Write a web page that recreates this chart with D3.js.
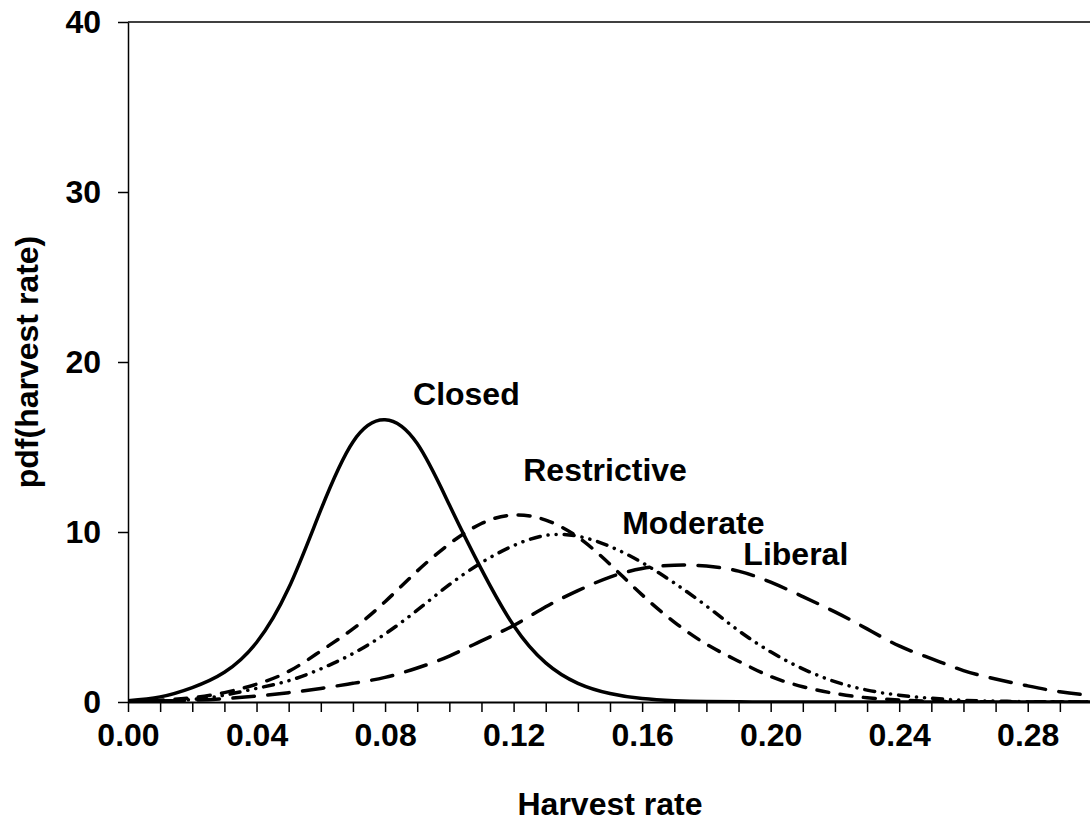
<!DOCTYPE html>
<html>
<head>
<meta charset="utf-8">
<script src="https://cdn.jsdelivr.net/npm/d3@7"></script>
<style>
  body { margin: 0; background: #fff; }
  svg text { font-family: Arial, "Liberation Sans", sans-serif; font-weight: bold; fill: #000; }
</style>
</head>
<body>
<div id="chart"></div>
<script>
// harvest rate grid (x) and the pdf
const harvestRate = [0.00, 0.01, 0.02, 0.03, 0.04, 0.05, 0.06, 0.07, 0.08, 0.09,
                     0.10, 0.11, 0.12, 0.13, 0.14, 0.15, 0.16, 0.17, 0.18, 0.19,
                     0.20, 0.21, 0.22, 0.23, 0.24, 0.25, 0.26, 0.27, 0.28, 0.29, 0.30];

const closed      = [0.08, 0.3, 0.85, 1.75, 3.5, 6.7, 11.3, 15.3, 16.6, 15.2,
                     11.6, 7.8, 4.5, 2.3, 1.1, 0.5, 0.2, 0.08, 0.03, 0.01,
                     0, 0, 0, 0, 0, 0, 0, 0, 0, 0, 0];
const restrictive = [0.02, 0.1, 0.25, 0.55, 1.05, 1.8, 3.0, 4.3, 5.9, 7.7,
                     9.3, 10.5, 11.0, 10.7, 9.7, 8.1, 6.3, 4.7, 3.4, 2.4,
                     1.5, 0.9, 0.5, 0.25, 0.12, 0.05, 0.02, 0.01, 0, 0, 0];
const moderate    = [0.01, 0.05, 0.15, 0.4, 0.8, 1.25, 1.95, 2.85, 4.0, 5.4,
                     6.9, 8.2, 9.2, 9.8, 9.75, 9.15, 8.2, 7.0, 5.65, 4.2,
                     2.95, 1.95, 1.2, 0.7, 0.4, 0.22, 0.1, 0.05, 0.02, 0.01, 0];
const liberal     = [0.02, 0.05, 0.1, 0.2, 0.35, 0.55, 0.8, 1.1, 1.45, 2.0,
                     2.7, 3.6, 4.5, 5.6, 6.55, 7.35, 7.85, 8.05, 8.0, 7.7,
                     7.05, 6.2, 5.3, 4.3, 3.3, 2.55, 1.85, 1.35, 0.95, 0.6, 0.38];

const xTickLabels = [0.00, 0.04, 0.08, 0.12, 0.16, 0.20, 0.24, 0.28];
const yTickLabels = [0, 10, 20, 30, 40];

// series styling + where the label sits (in data units)
const series = [
  {name: "Closed",      values: closed,      dash: null,                 lx: 0.0887, ly: 17.5},
  {name: "Restrictive", values: restrictive, dash: "12,11.5",            lx: 0.1230, ly: 13.0},
  {name: "Moderate",    values: moderate,    dash: "10,8,0.1,8,0.1,8",   lx: 0.1538, ly: 9.9},
  {name: "Liberal",     values: liberal,     dash: "21.5,13.5",          lx: 0.1915, ly: 8.05}
];

const width = 1090, height = 822;
const margin = {left: 128, top: 22, right: -2, bottom: 120};

const svg = d3.select("#chart").append("svg")
  .attr("width", width)
  .attr("height", height);

const x = d3.scaleLinear().domain([0, 0.30]).range([margin.left, width - margin.right]);
const y = d3.scaleLinear().domain([0, 40]).range([height - margin.bottom, margin.top]);

// top frame line
svg.append("line")
  .attr("x1", x(0)).attr("x2", x(0.30))
  .attr("y1", y(40)).attr("y2", y(40))
  .attr("stroke", "#000").attr("stroke-width", 1.5);

// x axis: minor ticks every 0.01, labels every 0.04
const xAxis = d3.axisBottom(x)
  .tickValues(harvestRate)
  .tickSize(10)
  .tickSizeOuter(0)
  .tickFormat(d => xTickLabels.some(v => Math.abs(v - d) < 1e-9) ? d3.format(".2f")(d) : "");

const gx = svg.append("g")
  .attr("transform", `translate(0,${y(0)})`)
  .call(xAxis);
gx.select(".domain").attr("stroke-width", 2);
gx.selectAll(".tick line").attr("stroke-width", 1.5);
gx.selectAll(".tick text")
  .attr("y", 21)
  .attr("dy", "0.71em")
  .style("font-size", "32px");

// y axis
const yAxis = d3.axisLeft(y)
  .tickValues(yTickLabels)
  .tickSize(10)
  .tickSizeOuter(0)
  .tickPadding(17);

const gy = svg.append("g")
  .attr("transform", `translate(${x(0)},0)`)
  .call(yAxis);
gy.select(".domain").attr("stroke-width", 1.5);
gy.selectAll(".tick line").attr("stroke-width", 1.5);
gy.selectAll(".tick text").style("font-size", "32px");

// axis titles
svg.append("text")
  .attr("x", (x(0) + x(0.30)) / 2)
  .attr("y", 815)
  .attr("text-anchor", "middle")
  .style("font-size", "32px")
  .text("Harvest rate");

svg.append("text")
  .attr("transform", `translate(38,${(y(0) + y(40)) / 2}) rotate(-90)`)
  .attr("text-anchor", "middle")
  .style("font-size", "32px")
  .text("pdf(harvest rate)");

// curves (clipped so the spline never dips under the axis)
svg.append("clipPath").attr("id", "plot-clip")
  .append("rect")
  .attr("x", x(0)).attr("y", y(40))
  .attr("width", x(0.30) - x(0)).attr("height", y(0) - y(40) + 1);

const line = d3.line()
  .x((d, i) => x(harvestRate[i]))
  .y(d => y(d))
  .curve(d3.curveNatural);

svg.append("g")
  .attr("clip-path", "url(#plot-clip)")
  .selectAll("path")
  .data(series)
  .join("path")
  .attr("d", d => line(d.values))
  .attr("fill", "none")
  .attr("stroke", "#000")
  .attr("stroke-width", 3.5)
  .attr("stroke-linecap", d => d.dash ? "round" : "butt")
  .attr("stroke-dasharray", d => d.dash);

// in-plot curve labels
svg.append("g")
  .selectAll("text")
  .data(series)
  .join("text")
  .attr("x", d => x(d.lx))
  .attr("y", d => y(d.ly))
  .style("font-size", "32px")
  .text(d => d.name);
</script>
</body>
</html>
